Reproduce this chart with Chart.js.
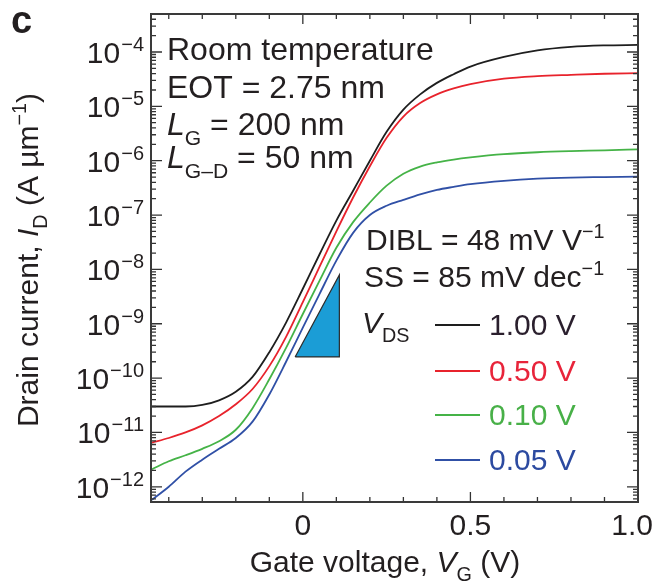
<!DOCTYPE html>
<html>
<head>
<meta charset="utf-8">
<script src="https://cdn.jsdelivr.net/npm/chart.js@4.4.1/dist/chart.umd.min.js"></script>
<style>
body { margin: 0; background: #fff; }
canvas { display: block; }
</style>
</head>
<body>
<canvas id="chart" width="657" height="587"></canvas>
<script>
// gate voltage (V) and drain current (A/um)
var gateVoltage = [-0.45, -0.4, -0.35, -0.3, -0.25, -0.2, -0.15, -0.1, -0.05, 0, 0.05, 0.1, 0.15, 0.2, 0.25, 0.3, 0.35, 0.4, 0.45, 0.5, 0.6, 0.7, 0.8, 0.9, 1.0];
var idVds100 = [3.0e-11, 3.0e-11, 3.0e-11, 3.2e-11, 3.9e-11, 5.6e-11, 1.05e-10, 3.0e-10, 1.05e-9, 4.4e-9, 1.9e-8, 7.9e-8, 2.8e-7, 1.0e-6, 3.4e-6, 8.7e-6, 1.66e-5, 2.7e-5, 3.9e-5, 5.4e-5, 8.1e-5, 1.07e-4, 1.24e-4, 1.32e-4, 1.35e-4];
var idVds050 = [6.5e-12, 7.9e-12, 1.0e-11, 1.35e-11, 2.0e-11, 3.3e-11, 6.3e-11, 1.66e-10, 5.75e-10, 2.5e-9, 1.12e-8, 5.0e-8, 2.1e-7, 7.9e-7, 2.63e-6, 6.5e-6, 1.15e-5, 1.66e-5, 2.14e-5, 2.57e-5, 3.24e-5, 3.6e-5, 3.8e-5, 3.98e-5, 4.07e-5];
var idVds010 = [2.1e-12, 2.95e-12, 3.8e-12, 5.0e-12, 6.9e-12, 1.12e-11, 2.8e-11, 9.5e-11, 3.6e-10, 1.51e-9, 6.2e-9, 2.5e-8, 7.4e-8, 1.7e-7, 3.47e-7, 5.75e-7, 7.8e-7, 9.3e-7, 1.05e-6, 1.15e-6, 1.32e-6, 1.43e-6, 1.5e-6, 1.55e-6, 1.62e-6];
var idVds005 = [5.75e-13, 1.0e-12, 1.9e-12, 3.16e-12, 5.0e-12, 7.9e-12, 1.58e-11, 5.0e-11, 2.0e-10, 8.5e-10, 3.55e-9, 1.45e-8, 4.7e-8, 1.0e-7, 1.48e-7, 1.9e-7, 2.4e-7, 2.9e-7, 3.3e-7, 3.7e-7, 4.27e-7, 4.68e-7, 4.9e-7, 5.0e-7, 5.1e-7];
var seriesLabels = ['1.00 V', '0.50 V', '0.10 V', '0.05 V'];

// subthreshold slope triangle
var triX = [-0.023, 0.109, 0.109, -0.023];
var triY = [2.45e-10, 2.45e-10, 7.9e-9, 2.45e-10];

// axes
var xMin = -0.453, xMax = 1.0;
var yMin = 5.25e-13, yMax = 5.0e-4;
var xMajorTicks = [0, 0.5, 1.0];
var xMajorLabels = ['0', '0.5', '1.0'];
var xMinorTicks = [-0.4, -0.3, -0.2, -0.1, 0.1, 0.2, 0.3, 0.4, 0.6, 0.7, 0.8, 0.9];
var yDecades = [-12, -11, -10, -9, -8, -7, -6, -5, -4];

var colors = ['#1e1e1e', '#e8232c', '#45b347', '#3050a6'];
var textColors = ['#2a1f2d', '#e8243a', '#48b048', '#2c4aa0'];
var FONT = '"Liberation Sans", Arial, sans-serif';
var INK = '#231f20';

function pts(ys) {
    return gateVoltage.map(function (v, i) { return {x: v, y: ys[i]}; });
}

function fontFor(p, size) {
    var s = (p.s === 'sub' || p.s === 'sup') ? size * 0.66 : size;
    return (p.i ? 'italic ' : '') + (p.b ? 'bold ' : '') + s + 'px ' + FONT;
}

// draw a line of text with italic / sub / superscript pieces
function rich(ctx, x, y, parts, size, color, align) {
    var w = 0;
    parts.forEach(function (p) { ctx.font = fontFor(p, size); w += ctx.measureText(p.t).width; });
    var cx = align === 'right' ? x - w : (align === 'center' ? x - w / 2 : x);
    ctx.textAlign = 'left';
    ctx.textBaseline = 'alphabetic';
    ctx.fillStyle = color;
    parts.forEach(function (p) {
        ctx.font = fontFor(p, size);
        var dy = p.s === 'sub' ? size * 0.3 : (p.s === 'sup' ? -size * 0.4 : 0);
        ctx.fillText(p.t, cx, y + dy);
        cx += ctx.measureText(p.t).width;
    });
}

var decorations = {
    id: 'decorations',
    afterDraw: function (chart) {
        var ctx = chart.ctx, a = chart.chartArea;
        var xs = chart.scales.x, ys = chart.scales.y;
        ctx.save();

        // ticks on all four sides, pointing inwards
        ctx.strokeStyle = '#333';
        ctx.lineWidth = 1.3;
        function xTick(v, len) {
            var px = xs.getPixelForValue(v);
            ctx.beginPath();
            ctx.moveTo(px, a.bottom); ctx.lineTo(px, a.bottom - len);
            ctx.moveTo(px, a.top); ctx.lineTo(px, a.top + len);
            ctx.stroke();
        }
        function yTick(v, len) {
            var py = ys.getPixelForValue(v);
            if (py < a.top || py > a.bottom) return;
            ctx.beginPath();
            ctx.moveTo(a.left, py); ctx.lineTo(a.left + len, py);
            ctx.moveTo(a.right, py); ctx.lineTo(a.right - len, py);
            ctx.stroke();
        }
        xMinorTicks.forEach(function (v) { xTick(v, 5); });
        xMajorTicks.forEach(function (v) { xTick(v, 10); });
        for (var e = -13; e <= -4; e++) {
            for (var m = 2; m <= 9; m++) yTick(m * Math.pow(10, e), 5);
        }
        yDecades.forEach(function (e) { yTick(Math.pow(10, e), 11); });

        // frame
        ctx.strokeStyle = '#3a3a3a';
        ctx.lineWidth = 2;
        ctx.strokeRect(a.left, a.top, a.right - a.left, a.bottom - a.top);

        // x tick labels
        ctx.font = '30px ' + FONT;
        ctx.fillStyle = INK;
        ctx.textBaseline = 'alphabetic';
        xMajorTicks.forEach(function (v, i) {
            var px = xs.getPixelForValue(v);
            var w = ctx.measureText(xMajorLabels[i]).width;
            var left = Math.min(px - w / 2, chart.width - w - 4);
            ctx.textAlign = 'left';
            ctx.fillText(xMajorLabels[i], left, 535);
        });

        // y tick labels 10^n
        yDecades.forEach(function (e) {
            var py = ys.getPixelForValue(Math.pow(10, e));
            ctx.font = '20px ' + FONT;
            var ex = '\u2212' + Math.abs(e);
            var we = ctx.measureText(ex).width;
            ctx.textAlign = 'right';
            ctx.fillText(ex, 144, py - 1);
            ctx.font = '30px ' + FONT;
            ctx.fillText('10', 144 - we - 1, py + 11);
        });

        // axis titles
        rich(ctx, 385, 572, [{t: 'Gate voltage, '}, {t: 'V', i: 1}, {t: 'G', s: 'sub'}, {t: ' (V)'}], 30, INK, 'center');
        ctx.save();
        ctx.translate(38, 260);
        ctx.rotate(-Math.PI / 2);
        rich(ctx, 0, 0, [{t: 'Drain current, '}, {t: 'I', i: 1}, {t: 'D', s: 'sub'}, {t: ' (A \u00b5m'}, {t: '\u22121', s: 'sup'}, {t: ')'}], 30, INK, 'center');
        ctx.restore();

        // panel letter
        ctx.font = 'bold 38px ' + FONT;
        ctx.textAlign = 'left';
        ctx.fillStyle = INK;
        ctx.fillText('c', 11, 33);

        // device annotations
        rich(ctx, 167, 60, [{t: 'Room temperature'}], 32, INK);
        rich(ctx, 167, 98, [{t: 'EOT = 2.75 nm'}], 32, INK);
        rich(ctx, 167, 135, [{t: 'L', i: 1}, {t: 'G', s: 'sub'}, {t: ' = 200 nm'}], 32, INK);
        rich(ctx, 167, 168, [{t: 'L', i: 1}, {t: 'G\u2013D', s: 'sub'}, {t: ' = 50 nm'}], 32, INK);
        rich(ctx, 366, 250, [{t: 'DIBL = 48 mV V'}, {t: '\u22121', s: 'sup'}], 30, INK);
        rich(ctx, 364, 287, [{t: 'SS = 85 mV dec'}, {t: '\u22121', s: 'sup'}], 30, INK);

        // legend
        rich(ctx, 362, 333, [{t: 'V', i: 1}, {t: 'DS', s: 'sub'}], 30, INK);
        var rows = [325, 371, 415, 460];
        seriesLabels.forEach(function (lab, i) {
            ctx.strokeStyle = colors[i];
            ctx.lineWidth = 2;
            ctx.beginPath();
            ctx.moveTo(435, rows[i]); ctx.lineTo(480, rows[i]);
            ctx.stroke();
            rich(ctx, 489, rows[i] + 10, [{t: lab}], 30, textColors[i]);
        });

        ctx.restore();
    }
};

function lineSet(label, ys, color) {
    return {
        label: label,
        data: pts(ys),
        borderColor: color,
        backgroundColor: color,
        borderWidth: 1.8,
        pointRadius: 0,
        cubicInterpolationMode: 'monotone',
        fill: false
    };
}

var ctx1 = document.getElementById('chart').getContext('2d');
var idChart = new Chart(ctx1, {
    type: 'line',
    data: {
        datasets: [
            {
                label: 'slope',
                data: triX.map(function (v, i) { return {x: v, y: triY[i]}; }),
                borderColor: '#2b2b2b',
                backgroundColor: '#1b9dd6',
                borderWidth: 1.2,
                pointRadius: 0,
                tension: 0,
                fill: 'shape'
            },
            lineSet(seriesLabels[0], idVds100, colors[0]),
            lineSet(seriesLabels[1], idVds050, colors[1]),
            lineSet(seriesLabels[2], idVds010, colors[2]),
            lineSet(seriesLabels[3], idVds005, colors[3])
        ]
    },
    options: {
        responsive: false,
        animation: false,
        layout: { padding: { left: 151, top: 14, right: 19, bottom: 85 } },
        plugins: { legend: { display: false }, tooltip: { enabled: false } },
        scales: {
            x: { type: 'linear', min: xMin, max: xMax, display: false },
            y: { type: 'logarithmic', min: yMin, max: yMax, display: false }
        }
    },
    plugins: [decorations]
});
</script>
</body>
</html>
